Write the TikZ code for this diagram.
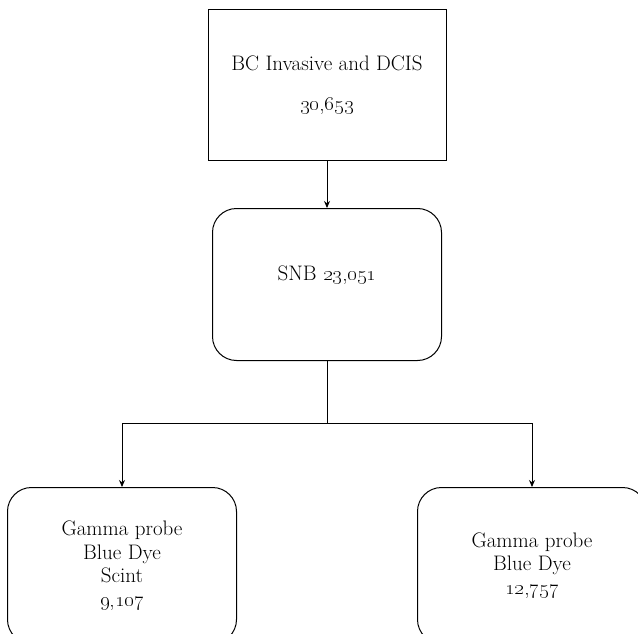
\documentclass[tikz,border=0pt]{standalone}
\usetikzlibrary{arrows.meta}

\tikzset{
  sqbox/.style={draw, line width=1pt, inner sep=0pt, align=center,
    minimum width=238pt, minimum height=150pt},
  rndbox/.style={draw, line width=1pt, inner sep=0pt, align=center,
    rounded corners=24pt, minimum width=229pt, minimum height=152pt},
  arr/.style={line width=1pt, -{Stealth[length=7pt,width=6pt]}}
}

\begin{document}
\begin{tikzpicture}[x=1pt,y=-1pt,font=\fontsize{21}{23.5}\selectfont]
\useasboundingbox (0,0) rectangle (638,634);
\clip (0,0) rectangle (638,634);
\node[sqbox] (bc) at (327,85) {BC Invasive and DCIS\\[17pt]\oldstylenums{30,653}};
\node[rndbox] (snb) at (327,284.5) {SNB \oldstylenums{23,051}\\\mbox{}};
\coordinate (split) at (327,423);
\node[rndbox, minimum height=156pt] (gbs) at (122,565.5) {Gamma probe\\Blue Dye\\Scint\\\oldstylenums{9,107}};
\node[rndbox, minimum height=156pt] (gb) at (532,565.5) {Gamma probe\\Blue Dye\\\oldstylenums{12,757}};
\draw[arr] (bc) -- (snb);
\draw[line width=1pt] (snb) -- (split);
\draw[arr] (split) -| (gbs);
\draw[arr] (split) -| (gb);
\end{tikzpicture}
\end{document}
